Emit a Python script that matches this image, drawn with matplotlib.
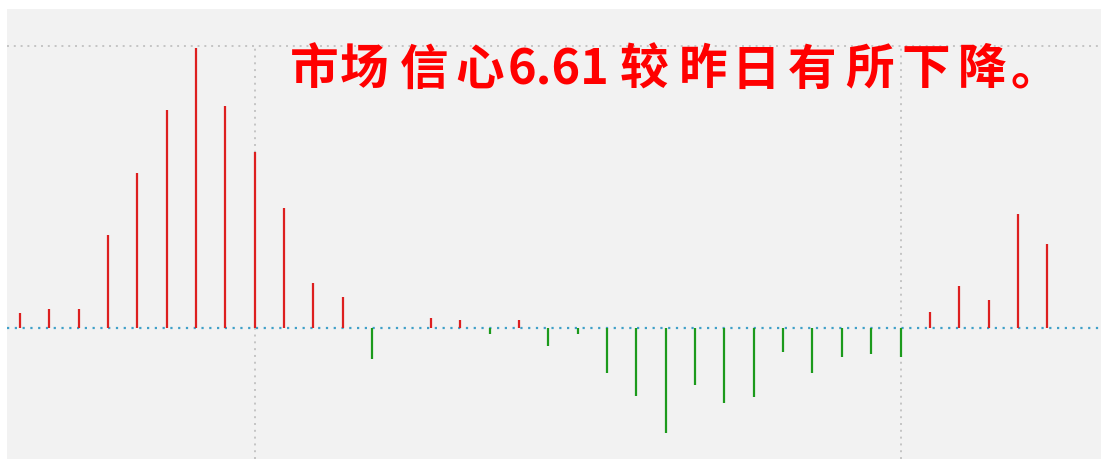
import matplotlib.pyplot as plt
import numpy as np

plt.rcParams['font.family'] = ['Noto Sans CJK SC', 'DejaVu Sans']

# daily bar values (relative units)
values = [15, 19, 19, 93, 155, 218, 280, 222, 176, 120, 45, 31, -31, 0,
          10, 8, -6, 8, -18, -6, -45, -68, -105, -57, -75, -69, -24, -45,
          -29, -26, -29, 16, 42, 28, 114, 84]
grid_x = [8, 30]
grid_y = 282
title_parts = ["市", "场", "信", "心", "6.61", "较", "昨", "日", "有", "所", "下", "降", "。"]
# centre of each part, in pixels (the title is widely spaced)
title_center = [314, 364, 424, 480, 559, 644, 703, 756, 812, 870, 926, 982, 1035]


def main():
    x = np.arange(len(values))
    v = np.array(values)
    W, H = 1101, 459

    fig = plt.figure(figsize=(W / 100, H / 100), dpi=100)
    fig.patch.set_facecolor('white')
    ax = fig.add_axes([7 / W, 0, (W - 7) / W, (H - 9) / H])
    ax.set_facecolor('#f2f2f2')
    ymin, ymax = -131, 319

    # grid
    ax.axhline(grid_y, color='#c4c4c4', linestyle=(0, (1, 2.5)), linewidth=1.4, zorder=1)
    ax.vlines(grid_x, ymin, grid_y, color='#c4c4c4', linestyle=(0, (1, 2.5)), linewidth=1.4, zorder=1)
    ax.axhline(0, color='#3fa0c8', linestyle=(0, (1, 2.5)), linewidth=1.6, zorder=1)

    # bars
    colors = ['#dd1f1f' if val > 0 else '#1c9a1c' for val in v]
    ax.vlines(x, 0, v, colors=colors, linewidth=1.6, zorder=3)

    for part, px in zip(title_parts, title_center):
        fig.text(px / W, 1 - 84.5 / H, part, color='#ff0000', fontsize=35,
                 fontweight='bold', ha='center', va='baseline', zorder=4)

    ax.set_xlim(-0.44, 36.83)
    ax.set_ylim(ymin, ymax)
    for s in ax.spines.values():
        s.set_visible(False)
    ax.set_xticks([])
    ax.set_yticks([])

    fig.savefig('out.png', dpi=100, facecolor='white')


if __name__ == '__main__':
    main()
